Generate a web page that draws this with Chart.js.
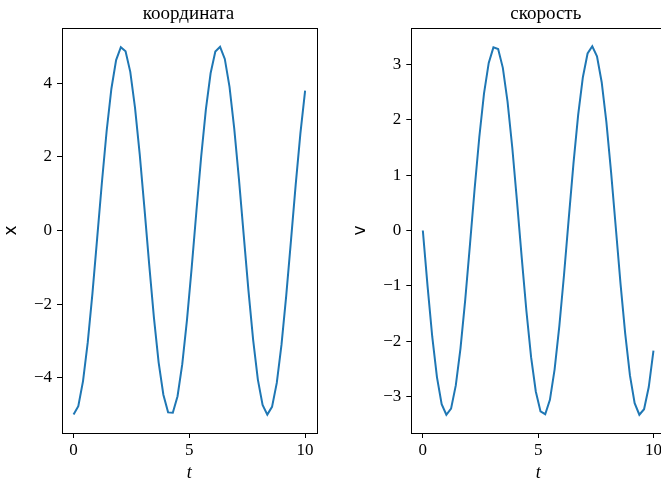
<!DOCTYPE html>
<html>
<head>
<meta charset="utf-8">
<script src="https://cdn.jsdelivr.net/npm/chart.js@4/dist/chart.umd.min.js"></script>
<style>
html,body{margin:0;padding:0;background:#fff;overflow:hidden;}
#wrap{position:relative;width:661px;height:484px;overflow:hidden;background:#fff;}
canvas{position:absolute;top:0;}
#c1{left:0;}
#c2{left:330px;}
</style>
</head>
<body>
<div id="wrap">
<canvas id="c1" width="330" height="484"></canvas>
<canvas id="c2" width="340" height="484"></canvas>
</div>
<script>
const t = [0, 0.204, 0.408, 0.612, 0.816, 1.020, 1.224, 1.429, 1.633, 1.837,
  2.041, 2.245, 2.449, 2.653, 2.857, 3.061, 3.265, 3.469, 3.673, 3.878,
  4.082, 4.286, 4.490, 4.694, 4.898, 5.102, 5.306, 5.510, 5.714, 5.918,
  6.122, 6.327, 6.531, 6.735, 6.939, 7.143, 7.347, 7.551, 7.755, 7.959,
  8.163, 8.367, 8.571, 8.776, 8.980, 9.184, 9.388, 9.592, 9.796, 10.0];
const xCoord = [-5.00, -4.77, -4.09, -3.04, -1.70, -0.20, 1.31, 2.71, 3.85, 4.63,
  4.98, 4.87, 4.31, 3.34, 2.07, 0.60, -0.92, -2.36, -3.58, -4.46,
  -4.94, -4.95, -4.50, -3.63, -2.43, -1.00, 0.53, 2.00, 3.29, 4.27,
  4.86, 4.99, 4.66, 3.90, 2.77, 1.39, -0.12, -1.62, -2.97, -4.05,
  -4.74, -5.00, -4.79, -4.14, -3.10, -1.77, -0.28, 1.24, 2.64, 3.80];
const velocity = [0.00, -1.00, -1.92, -2.65, -3.14, -3.33, -3.22, -2.80, -2.13, -1.26,
  -0.27, 0.75, 1.69, 2.48, 3.03, 3.31, 3.28, 2.94, 2.33, 1.50,
  0.53, -0.48, -1.45, -2.29, -2.91, -3.27, -3.32, -3.06, -2.51, -1.73,
  -0.80, 0.22, 1.21, 2.09, 2.77, 3.20, 3.33, 3.15, 2.68, 1.96,
  1.05, 0.05, -0.96, -1.87, -2.62, -3.12, -3.33, -3.23, -2.83, -2.17];
const xTicks = [0, 5, 10];
const leftYTicks = [-4, -2, 0, 2, 4];
const rightYTicks = [-3, -2, -1, 0, 1, 2, 3];
const titles = ['координата', 'скорость'];
const yLabels = ['x', 'v'];
const xLabel = 't';

const SERIF = "'Liberation Serif', 'Times New Roman', serif";
const SANS = "'DejaVu Sans', sans-serif";
const BLUE = '#1f77b4';

const frame = {
  id: 'frame',
  afterDraw(chart) {
    const {ctx, chartArea: a} = chart;
    ctx.save();
    ctx.strokeStyle = '#000';
    ctx.lineWidth = 1;
    ctx.strokeRect(Math.round(a.left) + 0.5, Math.round(a.top) + 0.5,
      Math.round(a.right - a.left), Math.round(a.bottom - a.top));
    ctx.restore();
  }
};

const plotTitle = {
  id: 'plotTitle',
  afterDraw(chart, args, opts) {
    const ctx = chart.ctx;
    ctx.save();
    ctx.fillStyle = '#000';
    ctx.font = '19px ' + SERIF;
    ctx.textAlign = 'center';
    ctx.textBaseline = 'alphabetic';
    ctx.fillText(opts.text, opts.cx, opts.baseline);
    ctx.restore();
  }
};

function fmt(v) { return String(v).replace('-', '\u2212'); }

function makeChart(id, ys, yTicks, ymin, ymax, title, titleX, ylabel, yWidth, padRight, yTitlePad) {
  const ctx = document.getElementById(id);
  return new Chart(ctx, {
    type: 'line',
    data: {
      datasets: [{
        data: t.map((v, i) => ({x: v, y: ys[i]})),
        borderColor: BLUE,
        borderWidth: 2,
        pointRadius: 0,
        tension: 0,
        fill: false
      }]
    },
    options: {
      responsive: false,
      animation: false,
      devicePixelRatio: 1,
      layout: {padding: {left: 0, right: padRight, top: 28, bottom: 0}},
      plugins: {
        legend: {display: false},
        tooltip: {enabled: false},
        title: {display: false},
        plotTitle: {text: title, cx: titleX, baseline: 18.5}
      },
      scales: {
        x: {
          type: 'linear',
          min: -0.5, max: 10.5,
          afterBuildTicks(s) { s.ticks = xTicks.map(v => ({value: v})); },
          afterFit(s) { s.height = 51; },
          grid: {display: true, drawOnChartArea: false, drawTicks: true, tickLength: 5, tickColor: '#000', tickWidth: 1},
          border: {display: true, color: '#000', width: 1},
          ticks: {color: '#000', font: {family: SERIF, size: 17}, padding: 2, maxRotation: 0, callback: v => fmt(v)},
          title: {display: true, text: xLabel, color: '#000', font: {family: SERIF, size: 18, style: 'italic'}, padding: {top: 0, bottom: 0}}
        },
        y: {
          type: 'linear',
          min: ymin, max: ymax,
          afterBuildTicks(s) { s.ticks = yTicks.map(v => ({value: v})); },
          afterFit(s) { s.width = yWidth; },
          grid: {display: true, drawOnChartArea: false, drawTicks: true, tickLength: 5, tickColor: '#000', tickWidth: 1},
          border: {display: true, color: '#000', width: 1},
          ticks: {color: '#000', font: {family: SERIF, size: 17}, padding: 5, callback: v => fmt(v)},
          title: {display: true, text: ylabel, color: '#000', font: {family: SANS, size: 17}, padding: {top: yTitlePad, bottom: 0}}
        }
      }
    },
    plugins: [frame, plotTitle]
  });
}

makeChart('c1', xCoord, leftYTicks, -5.5, 5.5, titles[0], 188.5, yLabels[0], 62, 13.3, 1);
makeChart('c2', velocity, rightYTicks, -3.66, 3.66, titles[1], 215.8, yLabels[1], 81.3, 5, 20);
</script>
</body>
</html>
